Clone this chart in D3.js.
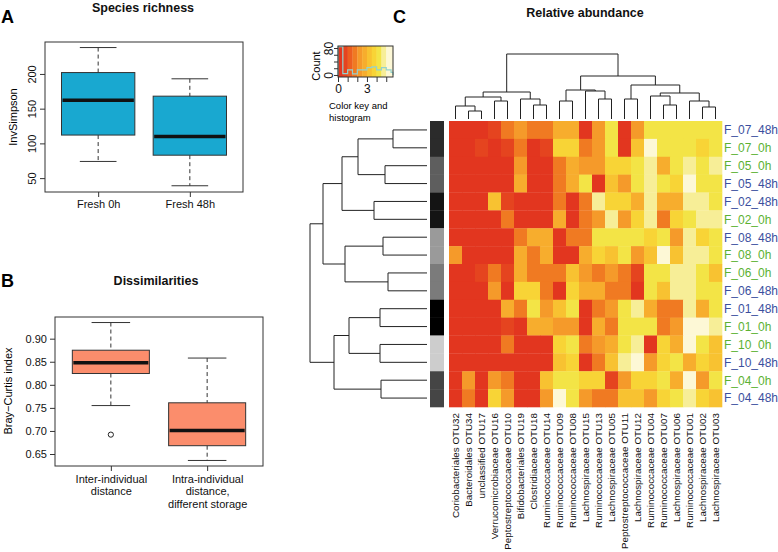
<!DOCTYPE html>
<html>
<head>
<meta charset="utf-8">
<script src="https://d3js.org/d3.v7.min.js"></script>
<style>
  body { margin: 0; background: #fff; }
  svg { font-family: "Liberation Sans", Arial, sans-serif; }
  .frame { fill: none; stroke: #333; stroke-width: 1; }
  .axis path.domain { display: none; }
  .axis line { stroke: #333; }
  .axis text { fill: #111; font-size: 11px; }
  .whisk { stroke: #333; stroke-dasharray: 4,3; }
  .cap { stroke: #333; }
  .box { stroke: #333; stroke-width: 1; }
  .median { stroke: #111; stroke-width: 3.5; }
  .title { font-weight: bold; font-size: 12.5px; text-anchor: middle; fill: #111; }
  .letter { font-weight: bold; font-size: 18px; fill: #000; }
  .dendro line { stroke: #222; stroke-width: 1; }
</style>
</head>
<body>
<svg id="chart" width="778" height="552"></svg>
<script>
// ---- panel A: species richness (InvSimpson) ----
var richGroups = ['Fresh 0h', 'Fresh 48h'];
var richLow = [74, 39];
var richQ1 = [112, 83];
var richMed = [162, 110];
var richQ3 = [202, 168];
var richHigh = [238, 193];
var richTicks = [50, 100, 150, 200];

// ---- panel B: Bray-Curtis dissimilarities ----
var dissGroups = ['inter', 'intra'];
var dissLabels = [['Inter-individual', 'distance'], ['Intra-individual', 'distance,', 'different storage']];
var dissLow = [0.755, 0.636];
var dissQ1 = [0.8245, 0.668];
var dissMed = [0.848, 0.701];
var dissQ3 = [0.875, 0.761];
var dissHigh = [0.935, 0.858];
var dissOutliers = [{g: 'inter', v: 0.692}];
var dissTicks = [0.65, 0.70, 0.75, 0.80, 0.85, 0.90];

// ---- panel C: heatmap ----
var otus = ['Coriobacteriales OTU32', 'Bacteroidales OTU34', 'unclassified OTU17',
  'Verrucomicrobiaceae OTU16', 'Peptostreptococcaceae OTU10', 'Bifidobacteriales OTU19',
  'Clostridiaceae OTU18', 'Ruminococcaceae OTU14', 'Ruminococcaceae OTU09',
  'Ruminococcaceae OTU08', 'Lachnospiraceae OTU15', 'Ruminococcaceae OTU13',
  'Lachnospiraceae OTU05', 'Peptostreptococcaceae OTU11', 'Lachnospiraceae OTU12',
  'Ruminococcaceae OTU04', 'Ruminococcaceae OTU07', 'Lachnospiraceae OTU06',
  'Ruminococcaceae OTU01', 'Lachnospiraceae OTU02', 'Lachnospiraceae OTU03'];
var samples = ['F_07_48h', 'F_07_0h', 'F_05_0h', 'F_05_48h', 'F_02_48h', 'F_02_0h',
  'F_08_48h', 'F_08_0h', 'F_06_0h', 'F_06_48h', 'F_01_48h', 'F_01_0h',
  'F_10_0h', 'F_10_48h', 'F_04_0h', 'F_04_48h'];
// color key units, one row per sample, one column per otu
var abundance = [
  [0,0,0,0.5,1.5,2,1.5,1.5,2.5,2.5,0,2,4,0,2,4,4,4,4,4,4],
  [0,0,0.5,0,0.5,1.5,0,0.5,3.5,3.5,1.5,2,4,0,3,5,4,4,4,3.5,4],
  [0,0,0,0,0,2,0,0,1.5,2.5,2,2,3.5,3.5,4,4.5,2.5,4,4.5,4,4.5],
  [0,0,0,0,0,2.5,0,0,1.5,2.5,4,0,3,2,4,4.5,4,3.5,5,4,4],
  [0,0,0,3,0.5,0,0,0,1.5,0,1.5,4.5,3.5,3.5,2.5,4.5,2.5,2.5,4.5,4.5,4],
  [0,0,0,0,1.5,0,0,0,2.5,0,1.5,2,4.5,2,3.5,4.5,1.5,3.5,4,4.5,4.5],
  [0,0,0,0,0,1.5,2.5,2.5,0,1.5,1.5,4,4,4,4,3.5,4,2,4.5,3.5,4],
  [2,0,0,0,0,2.5,1.5,2.5,0,0,2.5,3.5,3,4,2,3,5,3,4.5,4.5,4],
  [0,0,0.5,1.5,0.5,2.5,1.5,1.5,1.5,3,2,1.5,2,1.5,0.5,4,4,4.5,4.5,4,3],
  [0,0,0,2,0,3.5,3.5,1.5,0,3.5,2.5,2.5,1.5,1.5,0,4,3,4.5,4.5,4,4],
  [0,0,0,0,2.5,1.5,4,2,3,4,0,1.5,2,4,4.5,2.5,1.5,1.5,4.5,2.5,4],
  [0,0,0,0,0.5,0,2.5,2.5,2,2,0,2.5,1.5,4,4,4,1.5,2,5,5,4.5],
  [0,0,0,0,1.5,0,0,0,3.5,4,1.5,2,2.5,4,4.5,0,3.5,2.5,5,4,3],
  [0,0,0,0,0,0,0,0,3,3.5,0,1.5,3,4.5,5,2,3.5,4,2.5,3.5,3],
  [0,2,0,2,1.5,0,0,3,4,4,3.5,3.5,0.5,2,3.5,3.5,4,2.5,5,2,4],
  [0,1.5,0,3.5,2,0,0,2,5,4,2,1.5,1.5,3,3,2,3.5,4,4.5,3.5,3]
];
// row dendrogram (merge heights)
var rowTree = {h: 1.17, children: [
  {h: 1.04, children: [
    {h: 0.85, children: [
      {h: 0.69, children: [
        {h: 0.34, children: [{name: 'F_07_48h'}, {name: 'F_07_0h'}]},
        {h: 0.42, children: [{name: 'F_05_0h'}, {name: 'F_05_48h'}]}]},
      {h: 0.53, children: [{name: 'F_02_48h'}, {name: 'F_02_0h'}]}]},
    {h: 0.82, children: [
      {h: 0.44, children: [{name: 'F_08_48h'}, {name: 'F_08_0h'}]},
      {h: 0.39, children: [{name: 'F_06_0h'}, {name: 'F_06_48h'}]}]}]},
  {h: 0.93, children: [
    {h: 0.78, children: [
      {h: 0.47, children: [{name: 'F_01_48h'}, {name: 'F_01_0h'}]},
      {h: 0.47, children: [{name: 'F_10_0h'}, {name: 'F_10_48h'}]}]},
    {h: 0.46, children: [{name: 'F_04_0h'}, {name: 'F_04_48h'}]}]}
]};
// column dendrogram
var colTree = {h: 0.65, children: [
  {h: 0.27, children: [
    {h: 0.22, children: [
      {h: 0.13, children: [{name: otus[0]}, {h: 0.08, children: [{name: otus[1]}, {name: otus[2]}]}]},
      {h: 0.18, children: [{name: otus[3]}, {name: otus[4]}]}]},
    {h: 0.20, children: [{name: otus[5]}, {h: 0.14, children: [{name: otus[6]}, {name: otus[7]}]}]}]},
  {h: 0.43, children: [
    {h: 0.29, children: [
      {h: 0.18, children: [{name: otus[8]}, {name: otus[9]}]},
      {h: 0.28, children: [{name: otus[10]}, {h: 0.20, children: [{name: otus[11]}, {name: otus[12]}]}]}]},
    {h: 0.34, children: [
      {h: 0.20, children: [{name: otus[13]}, {name: otus[14]}]},
      {h: 0.26, children: [
        {h: 0.23, children: [{name: otus[15]}, {h: 0.14, children: [{name: otus[16]}, {name: otus[17]}]}]},
        {h: 0.18, children: [{name: otus[18]}, {h: 0.12, children: [{name: otus[19]}, {name: otus[20]}]}]}]}]}]}
]};
// histogram in the color key
var histBreaks = [0, 0.5, 1, 1.5, 2, 2.5, 3, 3.5, 4, 4.5, 5, 5.5, 5.7];
var histCounts = [86, 4, 15, 3, 15, 15, 22, 24, 15, 22, 15, 8];

var heatPalette = ['#e2361f', '#e5441f', '#ec5e20', '#f07a22', '#f59a2a', '#f7ad2d',
  '#f8c231', '#f8d436', '#f3e446', '#f7ee97', '#fdf8d6'];
var subjectColor = {F_07: '#2b2b2b', F_05: '#5e5e5e', F_02: '#141414', F_08: '#9a9a9a',
  F_06: '#7b7b7b', F_01: '#000000', F_10: '#cdcdcd', F_04: '#454545'};

var svg = d3.select('#chart');

function drawBoxes(g, x, y, groups, lo, q1, med, q3, hi, fill) {
  var w = x.step() * 0.8;
  groups.forEach(function(k, i) {
    var cx = x(k);
    g.append('line').attr('class', 'whisk')
      .attr('x1', cx).attr('x2', cx).attr('y1', y(hi[i])).attr('y2', y(q3[i]));
    g.append('line').attr('class', 'whisk')
      .attr('x1', cx).attr('x2', cx).attr('y1', y(q1[i])).attr('y2', y(lo[i]));
    [lo[i], hi[i]].forEach(function(v) {
      g.append('line').attr('class', 'cap')
        .attr('x1', cx - w / 4).attr('x2', cx + w / 4).attr('y1', y(v)).attr('y2', y(v));
    });
    g.append('rect').attr('class', 'box')
      .attr('x', cx - w / 2).attr('width', w)
      .attr('y', y(q3[i])).attr('height', y(q1[i]) - y(q3[i]))
      .attr('fill', fill);
    g.append('line').attr('class', 'median')
      .attr('x1', cx - w / 2 + 1).attr('x2', cx + w / 2 - 1).attr('y1', y(med[i])).attr('y2', y(med[i]));
  });
}

// ---------- A ----------
var gA = svg.append('g');
var xA = d3.scalePoint().domain(richGroups).range([45, 243]).padding(0.58);
var yA = d3.scaleLinear().domain([30, 246]).range([192, 42]);
drawBoxes(gA, xA, yA, richGroups, richLow, richQ1, richMed, richQ3, richHigh, '#19a8d0');
gA.append('rect').attr('class', 'frame').attr('x', 45).attr('y', 42).attr('width', 198).attr('height', 150);
gA.append('g').attr('class', 'axis').attr('transform', 'translate(45,0)')
  .call(d3.axisLeft(yA).tickValues(richTicks).tickSize(5))
  .selectAll('text')
    .attr('x', 0).attr('dy', 0).attr('text-anchor', 'middle')
    .attr('transform', 'translate(-9,0) rotate(-90)');
gA.append('g').attr('class', 'axis').attr('transform', 'translate(0,192)')
  .call(d3.axisBottom(xA).tickSize(5));
gA.append('text').attr('transform', 'translate(17,117) rotate(-90)')
  .attr('text-anchor', 'middle').style('font-size', '11px').text('InvSimpson');
gA.append('text').attr('class', 'title').attr('x', 143).attr('y', 12).text('Species richness');
gA.append('text').attr('class', 'letter').attr('x', 1).attr('y', 23).text('A');

// ---------- B ----------
var gB = svg.append('g');
var xB = d3.scalePoint().domain(dissGroups).range([55, 263]).padding(0.58);
var yB = d3.scaleLinear().domain([0.624, 0.947]).range([466, 317]);
drawBoxes(gB, xB, yB, dissGroups, dissLow, dissQ1, dissMed, dissQ3, dissHigh, '#fb8d6c');
gB.selectAll('.outlier').data(dissOutliers).enter().append('circle')
  .attr('cx', function(d) { return xB(d.g); })
  .attr('cy', function(d) { return yB(d.v); })
  .attr('r', 2.6).attr('fill', 'none').attr('stroke', '#222');
gB.append('rect').attr('class', 'frame').attr('x', 55).attr('y', 317).attr('width', 208).attr('height', 149);
gB.append('g').attr('class', 'axis').attr('transform', 'translate(55,0)')
  .call(d3.axisLeft(yB).tickValues(dissTicks).tickSize(5).tickFormat(d3.format('.2f')))
  .selectAll('text').attr('x', -8);
var xAxB = gB.append('g').attr('class', 'axis').attr('transform', 'translate(0,466)')
  .call(d3.axisBottom(xB).tickSize(5).tickFormat(''));
xAxB.selectAll('.tick').each(function(d, i) {
  var t = d3.select(this).append('text').attr('y', 17).attr('text-anchor', 'middle');
  dissLabels[i].forEach(function(s, j) {
    t.append('tspan').attr('x', 0).attr('dy', j ? 12.3 : 0).text(s);
  });
});
gB.append('text').attr('transform', 'translate(12,391) rotate(-90)')
  .attr('text-anchor', 'middle').style('font-size', '11px').text('Bray\u2212Curtis index');
gB.append('text').attr('class', 'title').attr('x', 156).attr('y', 285).text('Dissimilarities');
gB.append('text').attr('class', 'letter').attr('x', 1).attr('y', 287).text('B');

// ---------- C ----------
var gC = svg.append('g');
var xC = d3.scaleBand().domain(otus).range([449, 722]);
var yC = d3.scaleBand().domain(samples).range([121, 407]);
var heatColor = d3.scaleQuantize().domain([0, 5.5]).range(heatPalette);

samples.forEach(function(s, r) {
  gC.selectAll('.cell-' + r).data(abundance[r]).enter().append('rect')
    .attr('x', function(d, c) { return xC(otus[c]); })
    .attr('y', yC(s))
    .attr('width', xC.bandwidth() + 0.3)
    .attr('height', yC.bandwidth() + 0.3)
    .attr('fill', function(d) { return heatColor(d); });
});

// subject side bar
gC.selectAll('.side').data(samples).enter().append('rect')
  .attr('x', 430).attr('width', 14)
  .attr('y', function(d) { return yC(d); })
  .attr('height', yC.bandwidth() + 0.3)
  .attr('fill', function(d) { return subjectColor[d.slice(0, 4)]; });

// row labels
gC.selectAll('.rlab').data(samples).enter().append('text')
  .attr('x', 724)
  .attr('y', function(d) { return yC(d) + yC.bandwidth() / 2; })
  .attr('dy', '0.36em')
  .style('font-size', '12px')
  .attr('fill', function(d) { return /48h$/.test(d) ? '#3b4f9e' : '#5cb132'; })
  .text(function(d) { return d; });

// column labels
gC.selectAll('.clab').data(otus).enter().append('text')
  .attr('transform', function(d) {
    return 'translate(' + (xC(d) + xC.bandwidth() / 2) + ',413) rotate(-90)';
  })
  .attr('dy', '0.35em')
  .attr('text-anchor', 'end')
  .style('font-size', '9.8px')
  .attr('fill', '#111')
  .text(function(d) { return d; });

// dendrograms
function layoutTree(tree, leafPos) {
  var root = d3.hierarchy(tree);
  root.eachAfter(function(n) {
    if (!n.children) { n.pos = leafPos(n.data.name); n.ht = 0; }
    else { n.pos = d3.mean(n.children, function(c) { return c.pos; }); n.ht = n.data.h; }
  });
  return root;
}
var rowH = d3.scaleLinear().domain([0, 1.17]).range([427, 310]);
var rowRoot = layoutTree(rowTree, function(name) { return yC(name) + yC.bandwidth() / 2; });
var gRD = gC.append('g').attr('class', 'dendro');
rowRoot.each(function(n) {
  if (!n.children) return;
  gRD.append('line').attr('x1', rowH(n.ht)).attr('x2', rowH(n.ht))
    .attr('y1', n.children[0].pos).attr('y2', n.children[1].pos);
  n.children.forEach(function(c) {
    gRD.append('line').attr('x1', rowH(n.ht)).attr('x2', rowH(c.ht))
      .attr('y1', c.pos).attr('y2', c.pos);
  });
});

var colH = d3.scaleLinear().domain([0, 0.65]).range([119, 54]);
var colRoot = layoutTree(colTree, function(name) { return xC(name) + xC.bandwidth() / 2; });
var gCD = gC.append('g').attr('class', 'dendro');
colRoot.each(function(n) {
  if (!n.children) return;
  gCD.append('line').attr('y1', colH(n.ht)).attr('y2', colH(n.ht))
    .attr('x1', n.children[0].pos).attr('x2', n.children[1].pos);
  n.children.forEach(function(c) {
    gCD.append('line').attr('y1', colH(n.ht)).attr('y2', colH(c.ht))
      .attr('x1', c.pos).attr('x2', c.pos);
  });
});

// color key and histogram
var gK = svg.append('g');
var keyX = d3.scaleLinear().domain([0, 5.7]).range([338, 393]);
var keyY = d3.scaleLinear().domain([-6, 86]).range([77, 46]);
var bands = d3.pairs(histBreaks);
gK.selectAll('.kb').data(bands).enter().append('rect')
  .attr('x', function(d) { return keyX(d[0]); })
  .attr('width', function(d) { return keyX(d[1]) - keyX(d[0]) + 0.3; })
  .attr('y', 46).attr('height', 31)
  .attr('fill', function(d) { return heatColor(d[0] + 0.01); });
var histLine = [[0, 0]];
bands.forEach(function(b, i) {
  histLine.push([b[0], histCounts[i]]);
  histLine.push([b[1], histCounts[i]]);
});
histLine.push([5.7, 0]);
gK.append('path')
  .attr('d', d3.line().x(function(d) { return keyX(d[0]); }).y(function(d) { return keyY(Math.min(d[1], 84)); })(histLine))
  .attr('fill', 'none').attr('stroke', '#93d2cf').attr('stroke-width', 1.2);
gK.append('rect').attr('class', 'frame').attr('x', 338).attr('y', 46).attr('width', 55).attr('height', 31);
gK.append('g').attr('class', 'axis').attr('transform', 'translate(338,0)')
  .call(d3.axisLeft(keyY).tickValues([0, 20, 40, 60, 80]).tickSize(4)
    .tickFormat(function(d) { return d === 0 || d === 80 ? d : ''; }))
  .selectAll('text')
    .attr('x', 0).attr('dy', 0).attr('text-anchor', 'middle')
    .attr('transform', 'translate(-5,0) rotate(-90)')
    .style('font-size', '12px');
gK.append('g').attr('class', 'axis').attr('transform', 'translate(0,77)')
  .call(d3.axisBottom(keyX).tickValues([0, 1, 2, 3, 4, 5]).tickSize(5)
    .tickFormat(function(d) { return d === 0 || d === 3 ? d : ''; }))
  .selectAll('text').attr('y', 7).style('font-size', '12px');
gK.append('text').attr('transform', 'translate(320,66) rotate(-90)')
  .attr('text-anchor', 'middle').style('font-size', '11px').text('Count');
gK.append('text').attr('x', 329).attr('y', 109).style('font-size', '9.5px').text('Color key and');
gK.append('text').attr('x', 329).attr('y', 121).style('font-size', '9.5px').text('histogram');

gC.append('text').attr('class', 'title').attr('x', 585).attr('y', 17).text('Relative abundance');
gC.append('text').attr('class', 'letter').attr('x', 393).attr('y', 23).text('C');
</script>
</body>
</html>
